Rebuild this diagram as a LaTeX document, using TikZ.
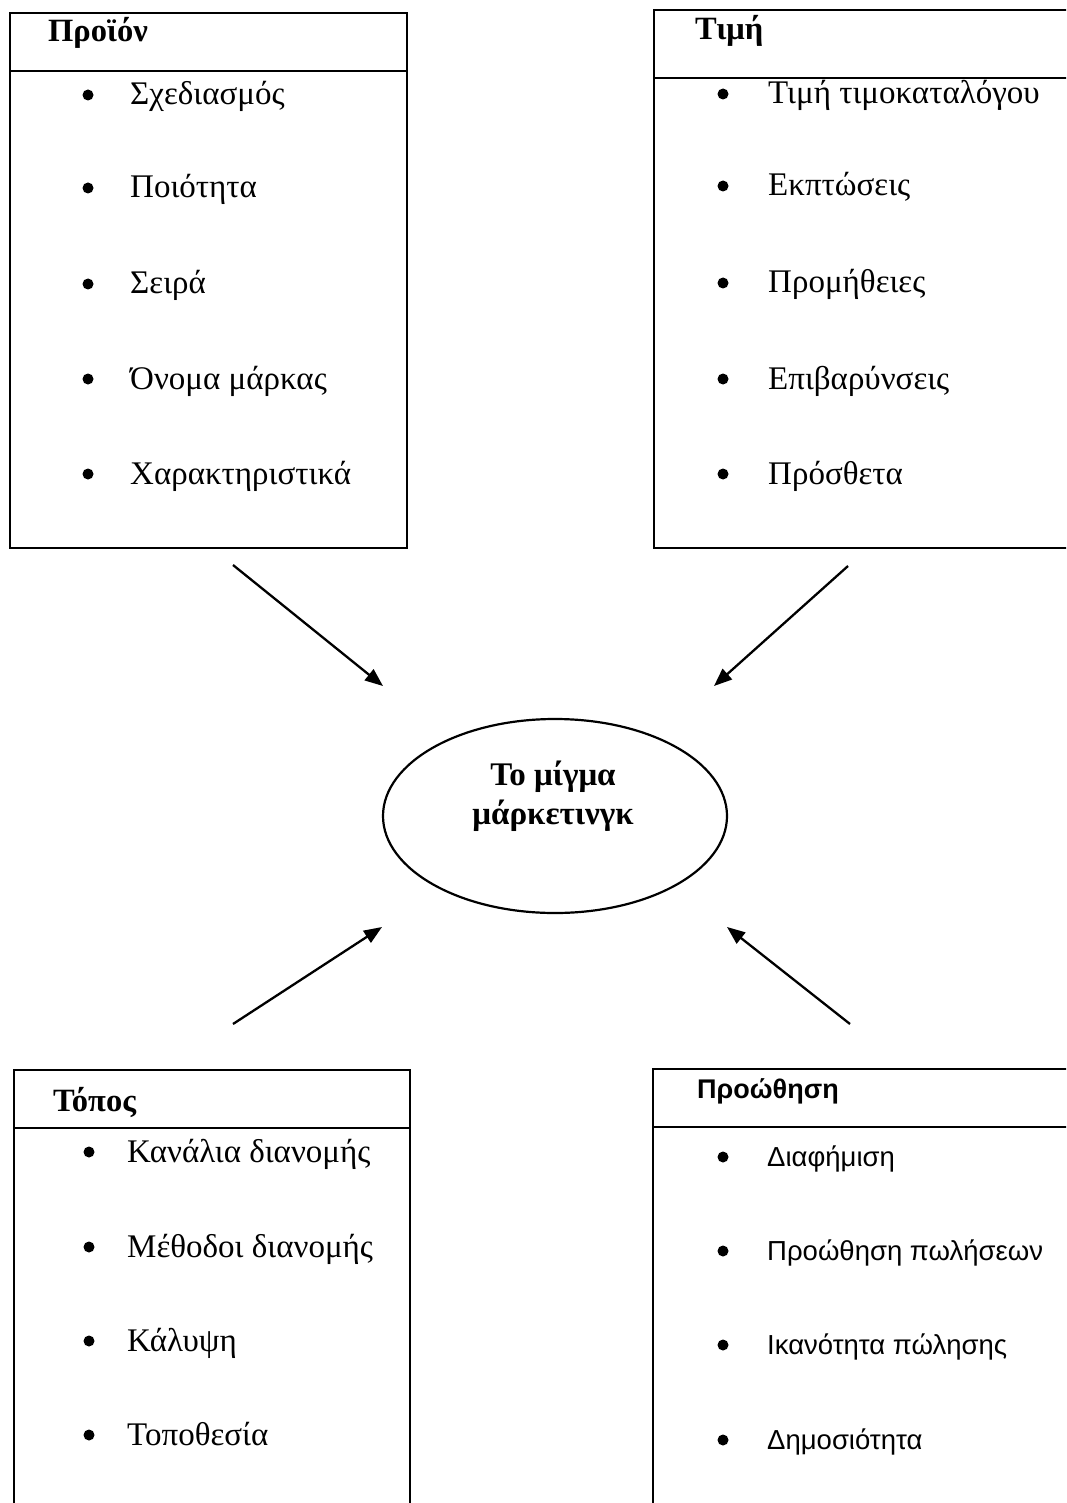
\documentclass[tikz,border=0pt]{standalone}
\usepackage{fontspec}
\setmainfont{Liberation Serif}
\newfontfamily\arialf{Liberation Sans}
\usetikzlibrary{arrows.meta,shapes.geometric}
\tikzset{
  frame/.style={draw, line width=2.2pt, rectangle, inner sep=0pt, anchor=north west},
  rule/.style={line width=2.2pt},
  title/.style={anchor=base west, inner sep=0pt, font=\fontsize{32.5}{36}\selectfont\bfseries},
  stitle/.style={anchor=base west, inner sep=0pt, font=\arialf\fontsize{27}{30}\selectfont\bfseries},
  item/.style={anchor=base west, inner sep=0pt, font=\fontsize{33}{36}\selectfont},
  sitem/.style={anchor=base west, inner sep=0pt, font=\arialf\fontsize{27.5}{30}\selectfont},
  dot/.style={circle, fill=black, minimum size=11pt, inner sep=0pt},
  arr/.style={line width=2.3pt, -{Triangle[length=18pt,width=14pt]}},
  oval/.style={draw, ellipse, line width=2.2pt, minimum width=344pt, minimum height=194pt, inner sep=0pt},
  ovaltext/.style={align=center, inner sep=0pt, font=\fontsize{33}{39}\selectfont\bfseries},
}
\begin{document}
\begin{tikzpicture}[x=1pt,y=-1pt]
\clip (0,0) rectangle (1066,1503);
\fill[white] (0,0) rectangle (1066,1503);

% boxes
\node[frame, minimum width=397pt, minimum height=535pt] (prod) at (9,12) {};
\node[frame, minimum width=440pt, minimum height=538pt] (price) at (653,9) {};
\node[frame, minimum width=396pt, minimum height=460pt] (place) at (13,1069) {};
\node[frame, minimum width=440pt, minimum height=460pt] (promo) at (652,1068) {};

% header rules
\draw[rule] (prod.west |- 0,71) -- (prod.east |- 0,71);
\draw[rule] (price.west |- 0,78) -- (price.east |- 0,78);
\draw[rule] (place.west |- 0,1128) -- (place.east |- 0,1128);
\draw[rule] (promo.west |- 0,1127) -- (promo.east |- 0,1127);

% titles
\node[title] (prodT) at (48,42) {Προϊόν};
\node[title] (priceT) at (695,40) {Τιμή};
\node[title] (placeT) at (53,1111) {Τόπος};
\node[stitle] (promoT) at (697,1098) {Προώθηση};

% product items
\foreach \t/\y [count=\i] in {Σχεδιασμός/105, Ποιότητα/198, Σειρά/294, Όνομα μάρκας/389, Χαρακτηριστικά/484}{
  \node[dot] (pd\i) at (88,\y-10) {};
  \node[item] (pi\i) at (130,\y) {\t};
}
% price items
\foreach \t/\y [count=\i] in {Τιμή τιμοκαταλόγου/104, Εκπτώσεις/196, Προμήθειες/293, Επιβαρύνσεις/389, Πρόσθετα/484}{
  \node[dot] (rd\i) at (723,\y-10) {};
  \node[item] (ri\i) at (768,\y) {\t};
}
% place items
\foreach \t/\y [count=\i] in {Κανάλια διανομής/1162, Μέθοδοι διανομής/1257, Κάλυψη/1351, Τοποθεσία/1445}{
  \node[dot] (ld\i) at (89,\y-10) {};
  \node[item] (li\i) at (127,\y) {\t};
}
% promotion items
\foreach \t/\y [count=\i] in {Διαφήμιση/1166, Προώθηση πωλήσεων/1260, Ικανότητα πώλησης/1354, Δημοσιότητα/1449}{
  \node[dot] (md\i) at (723,\y-9) {};
  \node[sitem] (mi\i) at (767,\y) {\t};
}

% centre
\node[oval] (mix) at (555,816) {};
\node[ovaltext] (mixT) at (553,796) {Το μίγμα\\μάρκετινγκ};

% arrows
\coordinate (a1s) at (233,565); \coordinate (a1e) at (383,686);
\coordinate (a2s) at (848,566); \coordinate (a2e) at (714,686);
\coordinate (a3s) at (233,1024); \coordinate (a3e) at (382,927);
\coordinate (a4s) at (850,1024); \coordinate (a4e) at (727,927);
\draw[arr] (a1s) -- (a1e);
\draw[arr] (a2s) -- (a2e);
\draw[arr] (a3s) -- (a3e);
\draw[arr] (a4s) -- (a4e);
\end{tikzpicture}
\end{document}
